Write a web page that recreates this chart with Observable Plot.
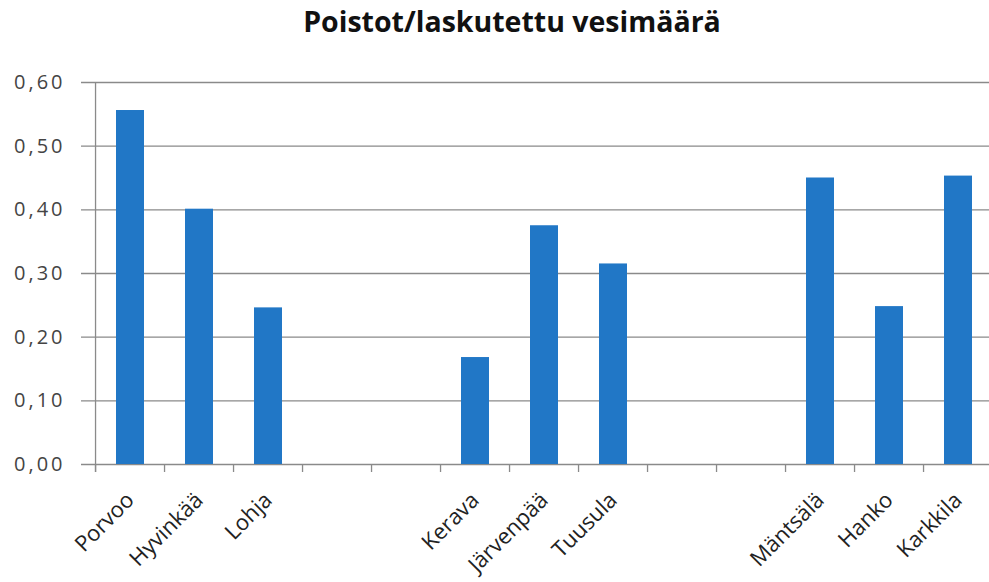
<!DOCTYPE html>
<html>
<head>
<meta charset="utf-8">
<script src="https://cdn.jsdelivr.net/npm/d3@7"></script>
<script src="https://cdn.jsdelivr.net/npm/@observablehq/plot@0.6"></script>
<style>
  html, body { margin: 0; padding: 0; background: #fff; overflow: hidden; }
  #wrap { position: relative; width: 989px; height: 582px; }
  #title { position: absolute; top: 7px; left: 0; width: 989px; padding-left: 35px; box-sizing: border-box;
           text-align: center; font-family: "Open Sans", sans-serif; font-weight: 700; font-size: 28.5px;
           line-height: 1; color: #111; }
  #chart svg { display: block; }
  .ylab text { letter-spacing: 3px; }
</style>
</head>
<body>
<div id="wrap">
  <div id="chart"></div>
  <div id="title">Poistot/laskutettu vesimäärä</div>
</div>
<script>
// Category slots along the x axis (empty slots are gaps in the original chart)
const slots = ["Porvoo", "Hyvinkää", "Lohja", "tyhjä 1", "tyhjä 2", "Kerava", "Järvenpää", "Tuusula", "tyhjä 3", "tyhjä 4", "Mäntsälä", "Hanko", "Karkkila"];
const cities = ["Porvoo", "Hyvinkää", "Lohja", "Kerava", "Järvenpää", "Tuusula", "Mäntsälä", "Hanko", "Karkkila"];
const values = [0.556, 0.401, 0.246, 0.168, 0.375, 0.315, 0.450, 0.248, 0.453];
const yTicks = [0, 0.1, 0.2, 0.3, 0.4, 0.5, 0.6];

const data = cities.map((c, i) => ({city: c, value: values[i]}));
const fmt = d => d3.format(".2f")(d).replace(".", ",");

const x0 = 89, x1 = 998;
const step = (x1 - x0) / slots.length;

const chart = Plot.plot({
  width: 989,
  height: 582,
  marginLeft: 81,
  marginRight: 0,
  marginTop: 82,
  marginBottom: 110,
  style: {background: "white"},
  x: {domain: slots, range: [x0, x1], paddingInner: 0.6, paddingOuter: 0.3, axis: null},
  y: {domain: [0, 0.6], range: [464, 82], axis: null},
  marks: [
    Plot.ruleY(yTicks, {y: d => d, stroke: "#8a8a8a", strokeWidth: 1.3}),
    Plot.ruleX([slots[0]], {x: d => d, dx: -step / 2, y1: 0.6, y2: 0, insetBottom: -8, stroke: "#8a8a8a", strokeWidth: 1.3}),
    Plot.ruleX(slots, {x: d => d, dx: -step / 2, y1: 0, y2: 0, insetTop: 8, stroke: "#8a8a8a", strokeWidth: 1.3}),
    Plot.barY(data, {x: "city", y: "value", fill: "#2177c6"}),
    Plot.text(yTicks, {y: d => d, text: d => fmt(d), frameAnchor: "left", dx: -16, textAnchor: "end",
      fill: "#444", fontSize: 20, fontFamily: "Open Sans", className: "ylab"}),
    Plot.text(data, {x: "city", y: 0, text: "city", rotate: -45, textAnchor: "end", dx: 0, dy: 32,
      fill: "#222", fontSize: 22, fontFamily: "Open Sans"})
  ]
});
document.getElementById("chart").appendChild(chart);
</script>
</body>
</html>
